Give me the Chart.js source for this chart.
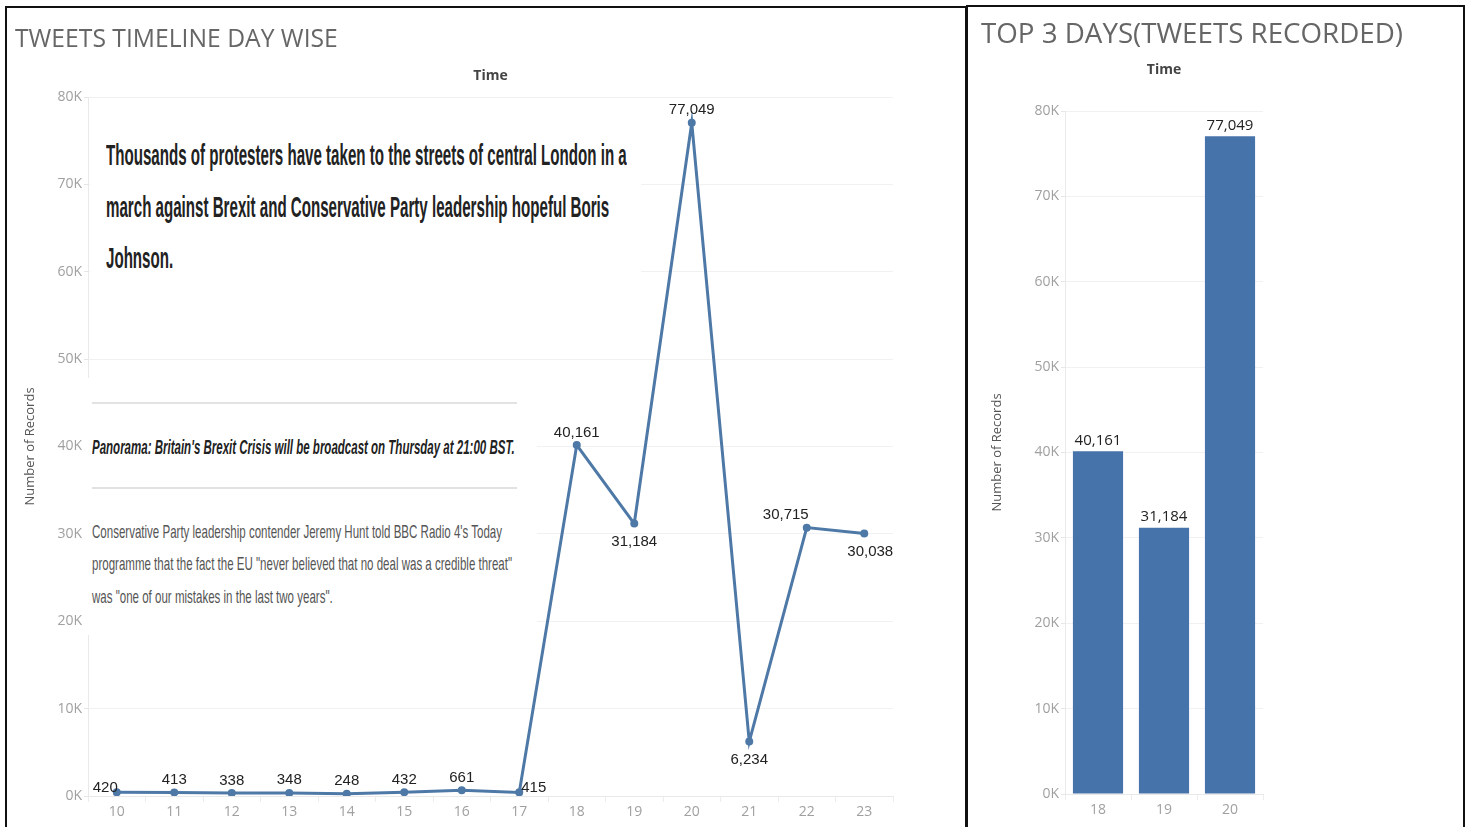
<!DOCTYPE html>
<html>
<head>
<meta charset="utf-8">
<script src="https://cdn.jsdelivr.net/npm/chart.js@4.4.1/dist/chart.umd.min.js"></script>
<style>
  html, body { margin: 0; padding: 0; background: #fff; width: 1468px; height: 827px; overflow: hidden; font-family: "Open Sans", sans-serif; }
  .panel { position: absolute; border: 2px solid #111; border-bottom: none; box-sizing: border-box; }
  #leftPanel { left: 5px; top: 6px; width: 962px; height: 821px; }
  #rightPanel { left: 966px; top: 5px; width: 499px; height: 822px; }
  canvas { position: absolute; top: 0; }
  #timelineCanvas { left: 0; }
  #topDaysCanvas { left: 967px; }
  .title { position: absolute; white-space: nowrap; color: #666; font-weight: 400; line-height: 1; }
  .note { position: absolute; background: #fff; z-index: 2; }
  .line { position: absolute; left: 0; white-space: nowrap; transform-origin: left center; font-family: "Liberation Sans Narrow", "Liberation Sans", Arial, sans-serif; }
  .line span { display: inline-block; }
  .rule { position: absolute; height: 2px; background: #e2e2e2; }
</style>
</head>
<body>
<div class="panel" id="leftPanel"></div>
<div class="panel" id="rightPanel"></div>

<canvas id="timelineCanvas" width="966" height="827"></canvas>
<canvas id="topDaysCanvas" width="498" height="827"></canvas>

<div class="title" id="leftTitle" style="left:15px; top:26px; font-size:24px;">TWEETS TIMELINE DAY WISE</div>
<div class="title" id="rightTitle" style="left:981px; top:19px; font-size:28px;">TOP 3 DAYS(TWEETS RECORDED)</div>

<!-- news notes laid over the timeline -->
<div class="note" style="left:90px; top:110px; width:551px; height:190px;">
  <div class="line headline" style="left:16px; top:28px; font-size:30px; font-weight:bold; color:#222; line-height:34px;"><span>Thousands of protesters have taken to the streets of central London in a</span></div>
  <div class="line headline" style="left:16px; top:80px; font-size:30px; font-weight:bold; color:#222; line-height:34px;"><span>march against Brexit and Conservative Party leadership hopeful Boris</span></div>
  <div class="line headline" style="left:16px; top:131px; font-size:30px; font-weight:bold; color:#222; line-height:34px;"><span>Johnson.</span></div>
</div>
<div class="note" style="left:84px; top:378px; width:453px; height:257px;">
  <div class="rule" style="left:8px; top:24px; width:425px;"></div>
  <div class="line panorama" style="left:8px; top:56px; font-size:20px; font-weight:bold; font-style:italic; color:#222; line-height:26px;"><span>Panorama: Britain's Brexit Crisis will be broadcast on Thursday at 21:00 BST.</span></div>
  <div class="rule" style="left:8px; top:109px; width:425px;"></div>
  <div class="line hunt" style="left:8px; top:141px; font-size:19px; color:#555; line-height:26px;"><span>Conservative Party leadership contender Jeremy Hunt told BBC Radio 4's Today</span></div>
  <div class="line hunt" style="left:8px; top:173px; font-size:19px; color:#555; line-height:26px;"><span>programme that the fact the EU "never believed that no deal was a credible threat"</span></div>
  <div class="line hunt" style="left:8px; top:206px; font-size:19px; color:#555; line-height:26px;"><span>was "one of our mistakes in the last two years".</span></div>
</div>

<script>
// tweets recorded per day
const days = ['10', '11', '12', '13', '14', '15', '16', '17', '18', '19', '20', '21', '22', '23'];
const dailyTweets = [420, 413, 338, 348, 248, 432, 661, 415, 40161, 31184, 77049, 6234, 30715, 30038];

// busiest three days
const topDays = ['18', '19', '20'];
const topDayTweets = [40161, 31184, 77049];

const yMax = 80000;
const yStep = 10000;

const tickFont = { family: 'Open Sans', size: 14 };
const kLabel = v => (v / 1000) + 'K';

// value labels next to each mark
const valueLabels = {
  id: 'valueLabels',
  afterDatasetsDraw(chart, args, opts) {
    const { ctx } = chart;
    const meta = chart.getDatasetMeta(0);
    const values = chart.data.datasets[0].data;
    const spots = {
      above: [0, -8.5, 'center'],
      below: [0, 22.5, 'center'],
      left: [1, 0, 'right'],
      right: [2, 0, 'left'],
      aboveLeft: [-21, -8.5, 'center'],
      belowRight: [6, 22.5, 'center']
    };
    ctx.save();
    ctx.font = opts.font;
    ctx.fillStyle = opts.color;
    ctx.textBaseline = 'alphabetic';
    meta.data.forEach((el, i) => {
      const where = (opts.place && opts.place[i]) || 'above';
      const [dx, dy, align] = spots[where];
      ctx.textAlign = align;
      ctx.fillText(values[i].toLocaleString('en-US'), el.x + dx, el.y + dy + (opts.shift || 0));
    });
    ctx.restore();
  }
};

// "Time" caption above the plot
const topCaption = {
  id: 'topCaption',
  afterDraw(chart, args, opts) {
    const { ctx, chartArea } = chart;
    ctx.save();
    ctx.font = 'bold 14px "Open Sans"';
    ctx.fillStyle = '#444';
    ctx.textAlign = 'center';
    ctx.textBaseline = 'middle';
    ctx.fillText(opts.text, (chartArea.left + chartArea.right) / 2, opts.y);
    ctx.restore();
  }
};

function yScale(titlePad, width) {
  return {
    min: 0,
    max: yMax,
    ticks: { stepSize: yStep, callback: kLabel, color: '#a0a0a0', font: tickFont, padding: 2 },
    grid: { color: '#f1f1f1', tickLength: 4, tickColor: '#e6e6e6' },
    border: { color: '#e9e9e9' },
    title: { display: true, text: 'Number of Records', color: '#555', font: { family: 'Open Sans', size: 13 }, padding: { top: titlePad, bottom: 0 } },
    afterFit: s => { s.width = width; }
  };
}

function xScale(height) {
  return {
    offset: true,
    ticks: { color: '#a0a0a0', font: tickFont, padding: 2, maxRotation: 0 },
    grid: { offset: true, drawOnChartArea: false, tickLength: 6, color: '#ececec' },
    border: { color: '#e9e9e9' },
    afterFit: s => { s.height = height; }
  };
}

new Chart(document.getElementById('timelineCanvas'), {
  type: 'line',
  data: {
    labels: days,
    datasets: [{
      data: dailyTweets,
      borderColor: '#4e79a7',
      backgroundColor: '#4e79a7',
      borderWidth: 3,
      pointRadius: 2.5,
      pointHoverRadius: 2.5,
      tension: 0
    }]
  },
  options: {
    responsive: false,
    devicePixelRatio: 1,
    animation: false,
    layout: { padding: { left: 8, right: 73, top: 97, bottom: 0 } },
    scales: { x: xScale(31), y: yScale(14, 80) },
    plugins: {
      legend: { display: false },
      tooltip: { enabled: false },
      topCaption: { text: 'Time', y: 76 },
      valueLabels: {
        font: '15px "Liberation Sans"',
        color: '#222',
        place: ['left', 'above', 'above', 'above', 'above', 'above', 'above', 'right',
                'above', 'below', 'above', 'below', 'aboveLeft', 'belowRight']
      }
    }
  },
  plugins: [valueLabels, topCaption]
});

new Chart(document.getElementById('topDaysCanvas'), {
  type: 'bar',
  data: {
    labels: topDays,
    datasets: [{
      data: topDayTweets,
      backgroundColor: '#4673a9',
      categoryPercentage: 1,
      barPercentage: 0.76
    }]
  },
  options: {
    responsive: false,
    devicePixelRatio: 1,
    animation: false,
    layout: { padding: { left: 18, right: 202, top: 111, bottom: 0 } },
    scales: { x: xScale(33), y: yScale(4, 80) },
    plugins: {
      legend: { display: false },
      tooltip: { enabled: false },
      topCaption: { text: 'Time', y: 70 },
      valueLabels: { font: '15px "Open Sans"', color: '#222', shift: 2 }
    }
  },
  plugins: [valueLabels, topCaption]
});

// size titles to their widths
function fitFont(el, width) {
  const size = parseFloat(getComputedStyle(el).fontSize);
  el.style.fontSize = (size * width / el.scrollWidth) + 'px';
}
fitFont(document.getElementById('leftTitle'), 323);
fitFont(document.getElementById('rightTitle'), 422);

// squeeze each note block so its first line spans the given width
function squeeze(cls, width) {
  const lines = document.querySelectorAll('.line.' + cls);
  const k = width / lines[0].querySelector('span').offsetWidth;
  lines.forEach(l => { l.style.transform = 'scaleX(' + k + ')'; });
}
squeeze('headline', 521);
squeeze('panorama', 423);
squeeze('hunt', 410);
</script>
</body>
</html>
